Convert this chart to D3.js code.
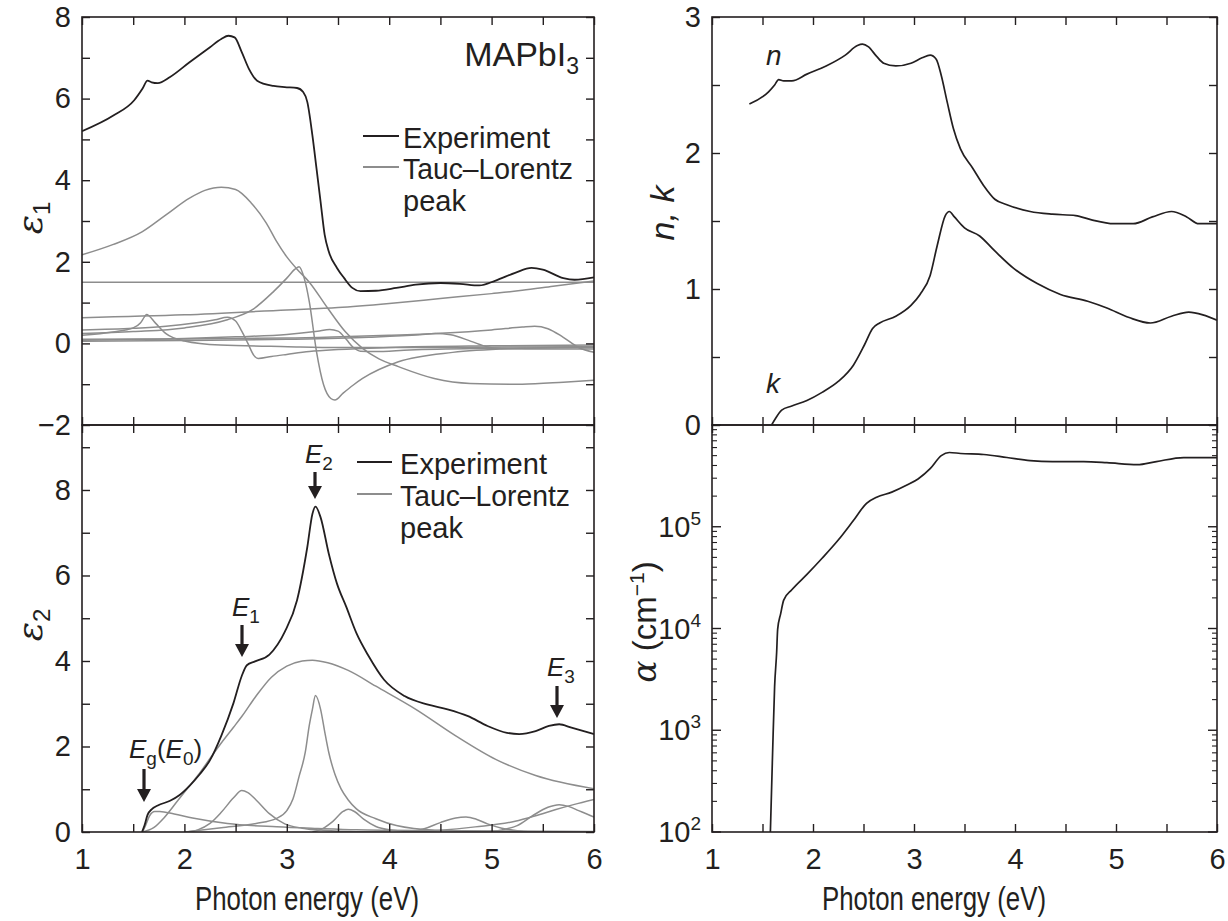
<!DOCTYPE html>
<html><head><meta charset="utf-8">
<script src="https://cdn.jsdelivr.net/npm/d3@7"></script>
<style>
body{margin:0;background:#fff}
svg{display:block}
text{font-family:"Liberation Sans",Arial,Helvetica,sans-serif;fill:#231f20}
</style>
</head><body>
<svg id="c" width="1228" height="921"></svg>
<script>
// ---------------- DATA ----------------
const energyTicks = [1,1.5,2,2.5,3,3.5,4,4.5,5,5.5,6];
const energyLabels = [1,2,3,4,5,6];
const eps1Ticks = [-2,-1,0,1,2,3,4,5,6,7,8];
const eps1Labels = [-2,0,2,4,6,8];
const eps2Ticks = [0,1,2,3,4,5,6,7,8,9];
const eps2Labels = [0,2,4,6,8];
const nkTicks = [0,0.5,1,1.5,2,2.5,3];
const nkLabels = [0,1,2,3];
const alphaDecades = [1e2,1e3,1e4,1e5,1e6];
const alphaLabelExp = [2,3,4,5];

// Experimental epsilon1 [E (eV), eps1]
const expEps1 = [[1,5.2],[1.31,5.59],[1.51,5.96],[1.59,6.24],[1.64,6.44],[1.68,6.40],[1.74,6.38],[1.86,6.53],[2.05,6.89],[2.25,7.26],[2.36,7.46],[2.43,7.54],[2.49,7.50],[2.56,7.14],[2.63,6.73],[2.71,6.44],[2.87,6.31],[2.98,6.28],[3.10,6.26],[3.16,6.16],[3.20,5.92],[3.25,5.10],[3.29,4.29],[3.33,3.47],[3.37,2.66],[3.41,2.25],[3.49,1.85],[3.56,1.60],[3.64,1.36],[3.72,1.28],[3.87,1.29],[4.07,1.36],[4.26,1.44],[4.50,1.48],[4.69,1.46],[4.88,1.42],[5.04,1.54],[5.23,1.73],[5.39,1.85],[5.50,1.81],[5.70,1.60],[5.81,1.56],[6.0,1.62]];

// Tauc-Lorentz peak contributions to epsilon1
const tlEps1Const = [[1,1.5],[6,1.5]];
const tlEps1Broad = [[1,2.17],[1.3,2.42],[1.59,2.74],[1.82,3.15],[2.05,3.56],[2.2,3.75],[2.36,3.83],[2.5,3.77],[2.65,3.45],[2.8,2.95],[2.9,2.5],[3.0,2.12],[3.1,1.82],[3.22,1.5],[3.4,0.86],[3.57,0.29],[3.74,-0.12],[3.9,-0.38],[4.09,-0.57],[4.44,-0.86],[4.79,-0.98],[5.3,-1.0],[5.7,-0.95],[6,-0.9]];
const tlEps1E2 = [[1,0.24],[1.5,0.29],[2.0,0.38],[2.42,0.58],[2.66,0.82],[2.87,1.27],[3.0,1.6],[3.08,1.82],[3.12,1.88],[3.17,1.6],[3.22,1.02],[3.29,-0.2],[3.36,-1.02],[3.43,-1.35],[3.47,-1.39],[3.55,-1.22],[3.65,-1.02],[3.74,-0.86],[4.09,-0.45],[4.62,-0.22],[5.3,-0.12],[6,-0.08]];
const tlEps1High = [[1,0.63],[2,0.7],[3,0.82],[3.5,0.88],[4,0.98],[4.5,1.1],[5,1.22],[5.3,1.3],[5.6,1.4],[6,1.53]];
const tlEps1E1 = [[1,0.33],[1.5,0.37],[1.82,0.42],[2.1,0.5],[2.3,0.58],[2.42,0.64],[2.5,0.55],[2.56,0.3],[2.62,0.0],[2.68,-0.3],[2.72,-0.37],[2.85,-0.32],[3.0,-0.27],[3.22,-0.2],[3.5,-0.15],[4,-0.1],[5,-0.06],[6,-0.04]];
const tlEps1Eg = [[1,0.2],[1.3,0.28],[1.5,0.38],[1.57,0.5],[1.61,0.65],[1.63,0.71],[1.72,0.49],[1.82,0.24],[2.0,0.06],[2.35,-0.04],[3.01,-0.08],[3.5,-0.1],[4.5,-0.1],[6,-0.08]];
const tlEps1P36 = [[1,0.08],[2,0.12],[2.5,0.16],[3.0,0.22],[3.3,0.3],[3.42,0.34],[3.5,0.3],[3.58,0.1],[3.65,-0.1],[3.72,-0.19],[3.85,-0.2],[4.2,-0.16],[5,-0.12],[6,-0.1]];
const tlEps1P47 = [[1,0.05],[2,0.07],[3,0.1],[3.8,0.15],[4.3,0.21],[4.45,0.24],[4.6,0.21],[4.8,0.05],[4.95,-0.08],[5.1,-0.13],[5.5,-0.14],[6,-0.14]];
const tlEps1P56 = [[1,0.1],[2,0.11],[3,0.13],[3.6,0.17],[4,0.2],[4.5,0.25],[5,0.33],[5.3,0.4],[5.42,0.42],[5.55,0.36],[5.7,0.15],[5.85,-0.1],[6,-0.22]];

// Experimental epsilon2
const expEps2 = [[1.586,0],[1.61,0.15],[1.64,0.4],[1.68,0.53],[1.74,0.62],[1.86,0.73],[1.95,0.86],[2.05,1.08],[2.15,1.35],[2.25,1.68],[2.36,2.25],[2.48,3.02],[2.56,3.65],[2.61,3.9],[2.69,3.99],[2.83,4.15],[2.98,4.68],[3.10,5.42],[3.20,6.66],[3.25,7.44],[3.28,7.61],[3.33,7.36],[3.41,6.51],[3.49,5.81],[3.58,5.27],[3.68,4.65],[3.80,4.11],[3.95,3.56],[4.15,3.18],[4.38,2.98],[4.57,2.87],[4.77,2.71],[4.96,2.48],[5.15,2.32],[5.27,2.29],[5.43,2.36],[5.56,2.48],[5.66,2.52],[5.78,2.44],[6.0,2.29]];

// Tauc-Lorentz peak contributions to epsilon2
const tlEps2Broad = [[1.59,0],[1.7,0.1],[1.8,0.33],[1.93,0.72],[2.05,1.08],[2.15,1.38],[2.25,1.72],[2.36,2.08],[2.48,2.45],[2.56,2.7],[2.7,3.18],[2.85,3.62],[3.0,3.88],[3.15,4.0],[3.25,4.02],[3.4,3.96],[3.6,3.78],[3.87,3.41],[4.26,2.87],[4.65,2.25],[5.04,1.70],[5.43,1.32],[6,1.01]];
const tlEps2E2 = [[2.0,0],[2.36,0.1],[2.7,0.2],[2.9,0.32],[3.0,0.5],[3.06,0.77],[3.12,1.3],[3.18,1.86],[3.22,2.5],[3.25,2.87],[3.28,3.19],[3.33,2.87],[3.37,2.35],[3.41,1.86],[3.47,1.35],[3.53,1.01],[3.6,0.75],[3.68,0.54],[3.87,0.31],[4.07,0.15],[4.46,0.04],[5,0.01],[6,0]];
const tlEps2E1 = [[2.0,0],[2.13,0.05],[2.25,0.2],[2.36,0.46],[2.48,0.8],[2.56,0.97],[2.62,0.92],[2.7,0.75],[2.83,0.43],[2.98,0.19],[3.15,0.09],[3.29,0.05],[3.6,0.01],[4,0]];
const tlEps2Eg = [[1.59,0],[1.62,0.15],[1.66,0.38],[1.71,0.48],[1.76,0.48],[1.9,0.42],[2.08,0.33],[2.42,0.2],[2.9,0.12],[3.3,0.08],[3.68,0.05],[4.5,0.03],[6,0.01]];
const tlEps2P36 = [[3.25,0],[3.35,0.08],[3.45,0.25],[3.55,0.48],[3.6,0.53],[3.66,0.48],[3.75,0.3],[3.87,0.13],[4.0,0.05],[4.2,0.01],[4.4,0]];
const tlEps2P47 = [[4.2,0],[4.35,0.08],[4.5,0.22],[4.65,0.33],[4.75,0.35],[4.85,0.3],[4.96,0.19],[5.1,0.09],[5.25,0.03],[5.4,0]];
const tlEps2P56 = [[4.9,0],[5.1,0.05],[5.25,0.15],[5.4,0.38],[5.55,0.58],[5.66,0.64],[5.75,0.6],[5.85,0.5],[5.93,0.42],[6,0.35]];
const tlEps2High = [[4.2,0],[4.5,0.04],[4.84,0.12],[5.23,0.25],[5.43,0.38],[5.62,0.52],[5.8,0.64],[6,0.76]];

// Refractive index n and extinction coefficient k
const nData = [[1.37,2.36],[1.56,2.45],[1.62,2.50],[1.66,2.54],[1.71,2.53],[1.79,2.53],[1.94,2.58],[2.13,2.64],[2.32,2.72],[2.44,2.79],[2.49,2.80],[2.55,2.78],[2.63,2.71],[2.70,2.66],[2.82,2.64],[2.97,2.66],[3.08,2.70],[3.16,2.72],[3.22,2.69],[3.27,2.57],[3.33,2.37],[3.39,2.18],[3.46,2.03],[3.58,1.89],[3.69,1.76],[3.80,1.66],[3.92,1.62],[4.15,1.57],[4.37,1.55],[4.60,1.54],[4.75,1.51],[4.98,1.48],[5.17,1.48],[5.36,1.53],[5.55,1.57],[5.70,1.53],[5.82,1.48],[6.0,1.48]];
const kData = [[1.59,0],[1.63,0.05],[1.69,0.11],[1.79,0.14],[1.94,0.18],[2.09,0.24],[2.25,0.32],[2.40,0.44],[2.51,0.59],[2.59,0.71],[2.66,0.75],[2.82,0.80],[2.97,0.88],[3.06,0.96],[3.16,1.10],[3.23,1.32],[3.31,1.54],[3.35,1.57],[3.40,1.53],[3.50,1.45],[3.65,1.39],[3.80,1.28],[3.99,1.15],[4.22,1.04],[4.45,0.96],[4.72,0.91],[4.91,0.86],[5.13,0.79],[5.34,0.75],[5.55,0.80],[5.72,0.83],[5.86,0.81],[6.0,0.77]];

// Absorption coefficient alpha (cm^-1)
const alphaData = [[1.578,100],[1.60,600],[1.62,2700],[1.64,5800],[1.65,9800],[1.68,14000],[1.71,19000],[1.79,24000],[1.94,34000],[2.09,49000],[2.25,74000],[2.40,115000],[2.53,170000],[2.63,195000],[2.78,219000],[2.93,257000],[3.04,295000],[3.16,372000],[3.27,500000],[3.35,537000],[3.46,525000],[3.69,513000],[3.92,479000],[4.15,447000],[4.37,437000],[4.68,437000],[4.91,427000],[5.21,407000],[5.40,437000],[5.67,479000],[6.00,479000]];

// ---------------- DRAWING ----------------
const INK = "#231f20", GRAY = "#8d8d8d";
const svg = d3.select("#c");

const xL = d3.scaleLinear().domain([1,6]).range([82,594]);
const xR = d3.scaleLinear().domain([1,6]).range([712,1217]);
const yE1 = d3.scaleLinear().domain([-2,8]).range([425,17]);
const yE2 = d3.scaleLinear().domain([0,9.52]).range([832,425]);
const yNK = d3.scaleLinear().domain([0,3]).range([425,17]);
const yA = d3.scaleLog().domain([1e2,1e6]).range([832,425]);

const fmt = d3.format("");
const TICKFS = 29;

function styleAxis(g){
  g.select(".domain").remove();
  g.selectAll(".tick line").attr("stroke", INK).attr("stroke-width", 1.4);
  g.selectAll(".tick text").attr("font-size", TICKFS).attr("fill", INK)
    .attr("font-family", '"Liberation Sans",Arial,sans-serif');
}

function panelAxes(x, y, xt, xlab, yt, ylab, logY){
  const [X0,X1] = x.range(); const [Y1,Y0] = y.range();
  const gb = svg.append("g").attr("transform",`translate(0,${Y1})`)
    .call(d3.axisBottom(x).tickValues(xt).tickSize(-8).tickPadding(16)
      .tickFormat(d => xlab && xlab.includes(d) ? fmt(d) : ""));
  styleAxis(gb);
  const gt = svg.append("g").attr("transform",`translate(0,${Y0})`)
    .call(d3.axisTop(x).tickValues(xt).tickSize(-8).tickFormat(""));
  styleAxis(gt);
  if(!logY){
    const gl = svg.append("g").attr("transform",`translate(${X0},0)`)
      .call(d3.axisLeft(y).tickValues(yt).tickSize(-8).tickPadding(11)
        .tickFormat(d => ylab.includes(d) ? d3.format("")(d) : ""));
    styleAxis(gl);
    const gr = svg.append("g").attr("transform",`translate(${X1},0)`)
      .call(d3.axisRight(y).tickValues(yt).tickSize(-8).tickFormat(""));
    styleAxis(gr);
  }
  svg.append("rect").attr("x",X0).attr("y",Y0).attr("width",X1-X0).attr("height",Y1-Y0)
    .attr("fill","none").attr("stroke",INK).attr("stroke-width",1.6);
}

function clipFor(id, x, y){
  const [X0,X1] = x.range(); const [Y1,Y0] = y.range();
  svg.append("clipPath").attr("id",id).append("rect")
    .attr("x",X0).attr("y",Y0).attr("width",X1-X0).attr("height",Y1-Y0);
}

function drawLine(data, x, y, color, w, clip){
  const line = d3.line().x(d => x(d[0])).y(d => y(d[1])).curve(d3.curveMonotoneX);
  svg.append("path").datum(data).attr("d", line).attr("fill","none")
    .attr("stroke", color).attr("stroke-width", w).attr("stroke-linejoin","round")
    .attr("clip-path", `url(#${clip})`);
}

clipFor("cTL", xL, yE1); clipFor("cBL", xL, yE2); clipFor("cTR", xR, yNK); clipFor("cBR", xR, yA);

// Top-left: epsilon1
[tlEps1Const, tlEps1Broad, tlEps1E2, tlEps1High, tlEps1E1, tlEps1Eg, tlEps1P36, tlEps1P47, tlEps1P56]
  .forEach(s => drawLine(s, xL, yE1, GRAY, 1.5, "cTL"));
drawLine(expEps1, xL, yE1, INK, 1.8, "cTL");
panelAxes(xL, yE1, energyTicks, null, eps1Ticks, eps1Labels, false);

// Bottom-left: epsilon2
[tlEps2Broad, tlEps2E2, tlEps2E1, tlEps2Eg, tlEps2P36, tlEps2P47, tlEps2P56, tlEps2High]
  .forEach(s => drawLine(s, xL, yE2, GRAY, 1.5, "cBL"));
drawLine(expEps2, xL, yE2, INK, 1.8, "cBL");
panelAxes(xL, yE2, energyTicks, energyLabels, eps2Ticks, eps2Labels, false);

// Top-right: n, k
drawLine(nData, xR, yNK, INK, 1.7, "cTR");
drawLine(kData, xR, yNK, INK, 1.7, "cTR");
panelAxes(xR, yNK, energyTicks, null, nkTicks, nkLabels, false);

// Bottom-right: alpha (log)
drawLine(alphaData, xR, yA, INK, 1.7, "cBR");
panelAxes(xR, yA, energyTicks, energyLabels, null, null, true);
{
  const minors = [];
  alphaDecades.slice(0,-1).forEach(d => { for(let m=2;m<=9;m++) minors.push(m*d); });
  const [X0,X1] = xR.range();
  [[X0,1],[X1,-1]].forEach(([xx,dir]) => {
    alphaDecades.forEach(v => svg.append("line").attr("x1",xx).attr("x2",xx+dir*9)
      .attr("y1",yA(v)).attr("y2",yA(v)).attr("stroke",INK).attr("stroke-width",1.4));
    minors.forEach(v => svg.append("line").attr("x1",xx).attr("x2",xx+dir*5)
      .attr("y1",yA(v)).attr("y2",yA(v)).attr("stroke",INK).attr("stroke-width",1.1));
  });
  alphaLabelExp.forEach(e => {
    const t = svg.append("text").attr("x", 701).attr("y", yA(Math.pow(10,e)) + 10)
      .attr("text-anchor","end").attr("font-size",TICKFS);
    t.append("tspan").text("10");
    t.append("tspan").attr("font-size",19).attr("dy",-12).text(e);
  });
}

// ---------------- TEXT ----------------
function axisTitle(cx, text){
  svg.append("text").attr("x",cx).attr("y",910).attr("text-anchor","middle")
    .attr("font-size",34).attr("textLength",224).attr("lengthAdjust","spacingAndGlyphs").text(text);
}
axisTitle(307, "Photon energy (eV)");
axisTitle(934, "Photon energy (eV)");

function epsTitle(cx, cy, sub){
  const t = svg.append("text").attr("transform",`translate(${cx},${cy}) rotate(-90)`)
    .attr("text-anchor","middle");
  t.append("tspan").attr("font-family",'"DejaVu Serif","Liberation Serif",serif').attr("font-style","italic")
    .attr("font-size",36).text("ε");
  t.append("tspan").attr("font-size",24).attr("dy",8).text(sub);
}
epsTitle(42, 218, "1");
epsTitle(42, 625, "2");

svg.append("text").attr("transform","translate(674,213) rotate(-90)")
  .attr("text-anchor","middle").attr("font-size",34).attr("font-style","italic").text("n, k");
{
  const t = svg.append("text").attr("transform","translate(656,622) rotate(-90)")
    .attr("text-anchor","middle").attr("font-size",33);
  t.append("tspan").attr("font-family",'"DejaVu Serif","Liberation Serif",serif').attr("font-style","italic").text("α");
  t.append("tspan").text(" (cm");
  t.append("tspan").attr("font-size",21).attr("dy",-12).text("−1");
  t.append("tspan").attr("dy",12).text(")");
}

// n, k curve labels
svg.append("text").attr("x",766).attr("y",65).attr("font-size",28).attr("font-style","italic").text("n");
svg.append("text").attr("x",766).attr("y",393).attr("font-size",28).attr("font-style","italic").text("k");

// MAPbI3
{
  const t = svg.append("text").attr("x",579).attr("y",66).attr("text-anchor","end").attr("font-size",34);
  t.append("tspan").text("MAPbI");
  t.append("tspan").attr("font-size",23).attr("dy",8).text("3");
}

// Legends
function legend(lx0, lx1, tx, yExp, yTL, yPeak){
  svg.append("line").attr("x1",lx0).attr("x2",lx1).attr("y1",yExp-12).attr("y2",yExp-12)
    .attr("stroke",INK).attr("stroke-width",1.8);
  svg.append("line").attr("x1",lx0).attr("x2",lx1).attr("y1",yTL-12).attr("y2",yTL-12)
    .attr("stroke",GRAY).attr("stroke-width",2.2);
  svg.append("text").attr("x",tx).attr("y",yExp).attr("font-size",29).attr("textLength",147).attr("lengthAdjust","spacingAndGlyphs").text("Experiment");
  svg.append("text").attr("x",tx).attr("y",yTL).attr("font-size",29).attr("textLength",170).attr("lengthAdjust","spacingAndGlyphs").text("Tauc–Lorentz");
  svg.append("text").attr("x",tx).attr("y",yPeak).attr("font-size",29).text("peak");
}
legend(363, 399, 403, 148, 179, 211);
legend(357, 392, 400, 474, 506, 538);

// Critical-point annotations
function arrow(x, y0, y1){
  svg.append("line").attr("x1",x).attr("x2",x).attr("y1",y0).attr("y2",y1-9)
    .attr("stroke",INK).attr("stroke-width",3.2);
  svg.append("path").attr("d",`M${x-7},${y1-13}L${x+7},${y1-13}L${x},${y1}Z`).attr("fill",INK);
}
function cpLabel(x, y, parts){
  const t = svg.append("text").attr("x",x).attr("y",y).attr("font-size",26);
  let shift = 0;
  parts.forEach(p => {
    const s = t.append("tspan").text(p.t);
    if(p.it) s.attr("font-style","italic");
    const target = p.sub ? 7 : 0;
    if(target !== shift){ s.attr("dy", target - shift); shift = target; }
    if(p.sub) s.attr("font-size",19);
  });
}
cpLabel(305, 463, [{t:"E",it:true},{t:"2",sub:true}]);  arrow(315, 472, 499);
cpLabel(232, 616, [{t:"E",it:true},{t:"1",sub:true}]);  arrow(242, 625, 657);
cpLabel(547, 676, [{t:"E",it:true},{t:"3",sub:true}]);  arrow(557, 686, 718);
cpLabel(129, 758, [{t:"E",it:true},{t:"g",sub:true},{t:"("},{t:"E",it:true},{t:"0",sub:true},{t:")"}]);
arrow(144, 769, 802);
</script>
</body></html>
